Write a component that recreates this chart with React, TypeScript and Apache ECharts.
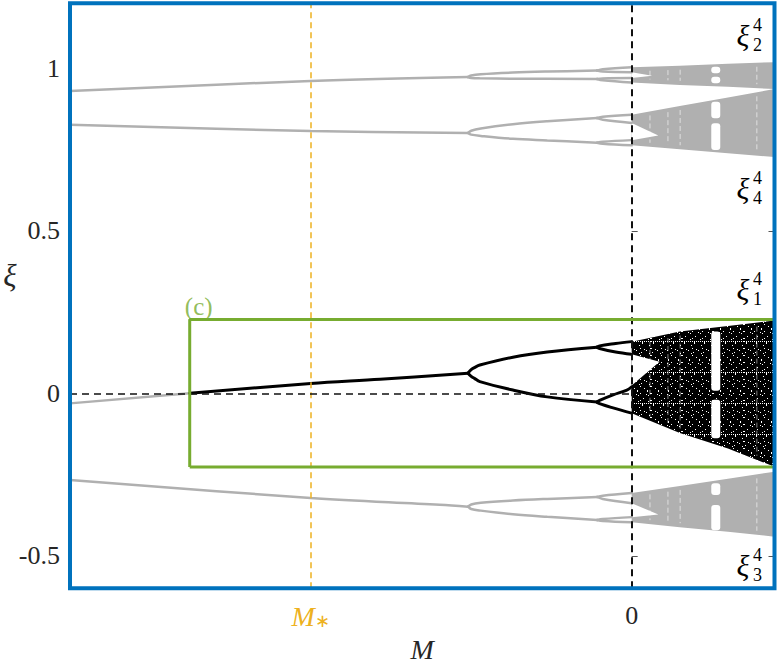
import React, { useEffect, useRef } from 'react';
import * as echarts from 'echarts';

// ---------- axis ranges & ticks ----------
const mRange = [-1.75, 0.445];
const xiRange = [-0.6, 1.2];
const mStar = -1;
const xTickValues = [mStar, 0];
const yTickValues = [-0.5, 0, 0.5, 1];

// ---------- branch data [M, ξ] ----------
const xi1Left = [[-1.75, -0.031], [-1.377, 0.0]];
const xi1Main = [[-1.377, 0.0], [-1.0, 0.030], [-0.784, 0.043], [-0.51, 0.062]];
const xi1Upper = [[-0.51, 0.062], [-0.5, 0.073], [-0.49, 0.079], [-0.473, 0.087], [-0.37, 0.111], [-0.263, 0.127], [-0.108, 0.142]];
const xi1Lower = [[-0.51, 0.062], [-0.5, 0.052], [-0.49, 0.046], [-0.473, 0.036], [-0.37, 0.010], [-0.263, -0.011], [-0.108, -0.027]];
const xi1P8 = [
  [[-0.108, 0.142], [-0.1, 0.146], [-0.05, 0.153], [0, 0.159]],
  [[-0.108, 0.142], [-0.1, 0.138], [-0.05, 0.127], [0, 0.12]],
  [[-0.108, -0.027], [-0.1, -0.022], [-0.058, -0.005], [-0.015, 0.01], [0, 0.02]],
  [[-0.108, -0.027], [-0.1, -0.032], [-0.058, -0.045], [0, -0.061]],
];

const xi2Main = [[-1.75, 0.930], [-1.0, 0.961], [-0.51, 0.973]];
const xi2Upper = [[-0.51, 0.973], [-0.5, 0.978], [-0.47, 0.982], [-0.37, 0.987], [-0.263, 0.990], [-0.108, 0.993]];
const xi2Lower = [[-0.51, 0.973], [-0.5, 0.970], [-0.47, 0.969], [-0.37, 0.968], [-0.108, 0.967]];
const xi2P8 = [
  [[-0.108, 0.993], [-0.09, 0.997], [0, 1.003]],
  [[-0.108, 0.993], [-0.09, 0.990], [0, 0.988]],
  [[-0.108, 0.967], [-0.09, 0.969], [0, 0.970]],
  [[-0.108, 0.967], [-0.09, 0.963], [0, 0.956]],
];

const xi4Main = [[-1.75, 0.826], [-1.0, 0.807], [-0.51, 0.801]];
const xi4Upper = [[-0.51, 0.801], [-0.5, 0.808], [-0.47, 0.815], [-0.37, 0.828], [-0.263, 0.837], [-0.108, 0.847]];
const xi4Lower = [[-0.51, 0.801], [-0.5, 0.796], [-0.47, 0.792], [-0.37, 0.783], [-0.263, 0.778], [-0.108, 0.771]];
const xi4P8 = [
  [[-0.108, 0.847], [-0.09, 0.851], [0, 0.857]],
  [[-0.108, 0.847], [-0.09, 0.842], [0, 0.832]],
  [[-0.108, 0.771], [-0.09, 0.774], [0, 0.779]],
  [[-0.108, 0.771], [-0.09, 0.768], [0, 0.763]],
];

const xi3Main = [[-1.75, -0.267], [-1.0, -0.322], [-0.598, -0.343], [-0.51, -0.349]];
const xi3Upper = [[-0.51, -0.349], [-0.5, -0.342], [-0.47, -0.337], [-0.37, -0.330], [-0.263, -0.325], [-0.108, -0.319]];
const xi3Lower = [[-0.51, -0.349], [-0.5, -0.356], [-0.47, -0.361], [-0.37, -0.372], [-0.263, -0.380], [-0.108, -0.390]];
const xi3P8 = [
  [[-0.108, -0.319], [-0.09, -0.315], [0, -0.307]],
  [[-0.108, -0.319], [-0.09, -0.325], [0, -0.338]],
  [[-0.108, -0.390], [-0.09, -0.387], [0, -0.381]],
  [[-0.108, -0.390], [-0.09, -0.393], [0, -0.397]],
];

// ---------- chaotic bands ----------
const bandM = [0, 0.15, 0.3, 0.445];
const xi1Top = [0.159, 0.190, 0.207, 0.224];
const xi1Bottom = [-0.061, -0.122, -0.170, -0.226];
const xi2Top = [1.003, 1.008, 1.014, 1.019];
const xi2Bottom = [0.956, 0.949, 0.943, 0.936];
const xi4Top = [0.857, 0.884, 0.910, 0.936];
const xi4Bottom = [0.763, 0.751, 0.739, 0.727];
const xi3Top = [-0.307, -0.285, -0.263, -0.241];
const xi3Bottom = [-0.397, -0.412, -0.426, -0.441];

const xi1Wedge = [[0, 0.12], [0.087, 0.097], [0, 0.024]];
const xi2Wedge = [[0, 0.988], [0.064, 0.977], [0, 0.970]];
const xi4Wedge = [[0, 0.832], [0.083, 0.793], [0, 0.779]];
const xi3Wedge = [[0, -0.338], [0.083, -0.373], [0, -0.381]];

const windowM = [0.248, 0.276];
const xi1Windows = [[0.008, 0.19], [-0.138, -0.02]];
const xi2Windows = [[0.985, 1.005], [0.954, 0.974]];
const xi4Windows = [[0.846, 0.897], [0.749, 0.831]];
const xi3Windows = [[-0.313, -0.277], [-0.421, -0.344]];
const stripeM = [0.057, 0.113, 0.151, 0.39];

// ---------- box (c) ----------
const boxM = [-1.377, 0.445];
const boxXi = [-0.227, 0.227];

const GRAY = '#b0b0b0';
const BLACK = '#000000';
const BLUE = '#0072BD';
const GREEN = '#77AC30';
const YELLOW = '#EDB120';
const TEXT = '#262626';
const SERIF = 'Liberation Serif';

function speckleCanvas() {
  // decorative dotted fill for the black chaotic band (deterministic texture)
  const size = 31;
  const c = document.createElement('canvas');
  c.width = size; c.height = size;
  const ctx = c.getContext('2d')!;
  ctx.fillStyle = '#000';
  ctx.fillRect(0, 0, size, size);
  ctx.fillStyle = '#ffffff';
  for (let i = 0; i < size; i++) {
    for (let j = 0; j < size; j++) {
      if ((i * 7 + j * 12 + ((i * j) % 5)) % 14 === 0) ctx.fillRect(i, j, 1, 1);
    }
  }
  return c;
}

function interp(xs: number[], ys: number[], x: number) {
  for (let i = 0; i < xs.length - 1; i++) {
    if (x >= xs[i] && x <= xs[i + 1]) {
      const t = (x - xs[i]) / (xs[i + 1] - xs[i]);
      return ys[i] + t * (ys[i + 1] - ys[i]);
    }
  }
  return ys[ys.length - 1];
}

function lineSeries(data: number[][], color: string, width: number, z = 3) {
  return {
    type: 'line',
    data,
    smooth: 0.35,
    showSymbol: false,
    symbol: 'none',
    silent: true,
    z,
    lineStyle: { color, width, cap: 'round' },
  };
}

const grayBranches = [xi1Left, xi2Main, xi2Upper, xi2Lower, ...xi2P8, xi4Main, xi4Upper, xi4Lower, ...xi4P8, xi3Main, xi3Upper, xi3Lower, ...xi3P8];
const blackBranches = [xi1Main, xi1Upper, xi1Lower, ...xi1P8];

function rightLabel(sub: string, cy: number) {
  return {
    type: 'group',
    z: 20,
    children: [
      { type: 'text', style: { text: 'ξ', x: 743, y: cy, align: 'center', verticalAlign: 'middle', font: `italic 30px ${SERIF}`, fill: '#000' } },
      { type: 'text', style: { text: '4', x: 753, y: cy - 10, align: 'left', verticalAlign: 'middle', font: `18px ${SERIF}`, fill: '#000' } },
      { type: 'text', style: { text: sub, x: 753, y: cy + 10, align: 'left', verticalAlign: 'middle', font: `18px ${SERIF}`, fill: '#000' } },
    ],
  };
}

export default function App() {
  const ref = useRef<HTMLDivElement>(null);
  useEffect(() => {
    const chart = echarts.init(ref.current!, null, { renderer: 'svg' });
    const speckle = { image: speckleCanvas(), repeat: 'repeat' };
    const bands = [
      { top: xi2Top, bottom: xi2Bottom, wedge: xi2Wedge, windows: xi2Windows, color: GRAY as any, stripe: 0.6 },
      { top: xi4Top, bottom: xi4Bottom, wedge: xi4Wedge, windows: xi4Windows, color: GRAY as any, stripe: 0.6 },
      { top: xi3Top, bottom: xi3Bottom, wedge: xi3Wedge, windows: xi3Windows, color: GRAY as any, stripe: 0.6 },
      { top: xi1Top, bottom: xi1Bottom, wedge: xi1Wedge, windows: xi1Windows, color: speckle as any, stripe: 0.5 },
    ];
    const gridLeft = 70, gridTop = 3.3, gridW = 704.5, gridH = 585;
    const option: any = {
      animation: false,
      backgroundColor: '#ffffff',
      grid: { left: gridLeft, top: gridTop, width: gridW, height: gridH, show: false, outerBoundsMode: 'none', containLabel: false },
      xAxis: {
        type: 'value', min: mRange[0], max: mRange[1],
        axisLine: { show: false }, axisTick: { show: false }, splitLine: { show: false },
        axisLabel: {
          customValues: xTickValues,
          margin: 14,
          fontFamily: SERIF, fontSize: 26, color: TEXT,
          formatter: (v: number) => (v === mStar ? '{m|M}{s|∗}' : String(v)),
          rich: {
            m: { fontFamily: SERIF, fontStyle: 'italic', fontSize: 28, color: YELLOW },
            s: { fontFamily: SERIF, fontSize: 18, color: YELLOW, verticalAlign: 'bottom', padding: [10, 0, 0, 0] },
          },
        },
        name: 'M', nameLocation: 'middle', nameGap: 39,
        nameTextStyle: { fontFamily: SERIF, fontStyle: 'italic', fontSize: 28, lineHeight: 28, color: TEXT },
      },
      yAxis: [
        {
          type: 'value', min: xiRange[0], max: xiRange[1],
          axisLine: { show: false }, splitLine: { show: false },
          axisTick: { show: true, inside: true, length: 6, customValues: yTickValues, lineStyle: { color: '#555', width: 1 } },
          axisLabel: { customValues: yTickValues, margin: 10, fontFamily: SERIF, fontSize: 26, color: TEXT, formatter: (v: number) => String(v) },
        },
        {
          type: 'value', min: xiRange[0], max: xiRange[1], position: 'right',
          axisLine: { show: false }, splitLine: { show: false },
          axisTick: { show: true, inside: true, length: 6, customValues: yTickValues, lineStyle: { color: '#555', width: 1 } },
          axisLabel: { show: false },
        },
      ],
      series: [
        {
          type: 'custom',
          z: 2,
          silent: true,
          clip: true,
          data: bands.map((b, i) => [bandM[0], b.top[0], i]),
          renderItem: (params: any, api: any) => {
            const b = bands[params.dataIndex];
            const topPts = bandM.map((m, k) => api.coord([m, b.top[k]]));
            const botPts = bandM.map((m, k) => api.coord([m, b.bottom[k]])).reverse();
            const children: any[] = [];
            children.push({ type: 'polygon', shape: { points: topPts.concat(botPts) }, style: { fill: b.color } });
            children.push({ type: 'polygon', shape: { points: b.wedge.map((p) => api.coord(p)) }, style: { fill: '#ffffff' } });
            b.windows.forEach(([y0, y1]) => {
              const p0 = api.coord([windowM[0], y1]);
              const p1 = api.coord([windowM[1], y0]);
              children.push({ type: 'rect', shape: { x: p0[0], y: p0[1], width: p1[0] - p0[0], height: p1[1] - p0[1], r: 3 }, style: { fill: '#ffffff' } });
            });
            stripeM.forEach((m) => {
              const a = api.coord([m, interp(bandM, b.top, m)]);
              const c = api.coord([m, interp(bandM, b.bottom, m)]);
              children.push({ type: 'line', shape: { x1: a[0], y1: a[1] + 4, x2: c[0], y2: c[1] - 4 }, style: { stroke: '#ffffff', lineWidth: 1, opacity: b.stripe, lineDash: [5, 3] } });
            });
            return { type: 'group', children };
          },
        },
        ...grayBranches.map((d) => lineSeries(d, GRAY, 2.5)),
        ...blackBranches.map((d) => lineSeries(d, BLACK, 3)),
        {
          type: 'line', data: [], z: 4, silent: true,
          markLine: {
            silent: true, symbol: 'none', label: { show: false },
            data: [
              { xAxis: 0, lineStyle: { color: '#111', type: [7, 5], width: 2 } },
              { xAxis: mStar, lineStyle: { color: YELLOW, type: [6, 4], width: 1.5 } },
              [{ coord: [mRange[0], 0], lineStyle: { color: '#111', type: [7, 5], width: 1.5 } }, { coord: [0, 0] }],
            ],
          },
        },
        {
          type: 'line', z: 5, silent: true, symbol: 'none', showSymbol: false,
          lineStyle: { color: GREEN, width: 3 },
          data: [[boxM[0], boxXi[0]], [boxM[1], boxXi[0]], [boxM[1], boxXi[1]], [boxM[0], boxXi[1]], [boxM[0], boxXi[0]]],
        },
        {
          type: 'scatter', z: 6, silent: true, symbolSize: 0,
          data: [[boxM[0], boxXi[1]]],
          label: { show: true, formatter: '(c)', position: 'top', distance: 1, offset: [9, 0], fontFamily: SERIF, fontSize: 25, color: GREEN },
        },
      ],
      graphic: [
        { type: 'rect', z: 50, shape: { x: gridLeft, y: gridTop, width: gridW, height: gridH }, style: { fill: 'none', stroke: BLUE, lineWidth: 4 } },
        { type: 'text', z: 20, style: { text: 'ξ', x: 10, y: 275, align: 'center', verticalAlign: 'middle', font: `italic 31px ${SERIF}`, fill: TEXT } },
        rightLabel('2', 35),
        rightLabel('4', 188),
        rightLabel('1', 289),
        rightLabel('3', 565),
      ],
    };
    chart.setOption(option);
    return () => chart.dispose();
  }, []);
  return <div ref={ref} style={{ position: 'absolute', left: 0, top: 0, width: 778, height: 664, background: '#fff' }} />;
}
